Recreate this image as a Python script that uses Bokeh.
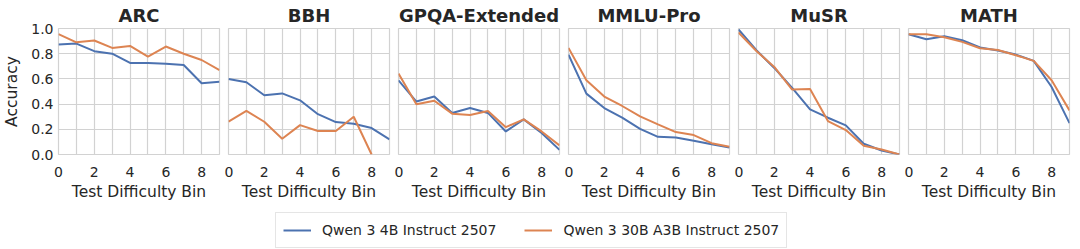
import math
from bokeh.plotting import figure
from bokeh.layouts import row, column
from bokeh.models import Range1d, FixedTicker, PrintfTickFormatter, Legend, LegendItem
from bokeh.embed import file_html
from bokeh.resources import INLINE

nan = float("nan")

bins = list(range(10))
titles = ["ARC", "BBH", "GPQA-Extended", "MMLU-Pro", "MuSR", "MATH"]
series_names = ["Qwen 3 4B Instruct 2507", "Qwen 3 30B A3B Instruct 2507"]

arc_4b = [0.873, 0.88, 0.82, 0.80, 0.727, 0.727, 0.72, 0.71, 0.565, 0.578]
arc_30b = [0.955, 0.89, 0.905, 0.846, 0.862, 0.777, 0.857, 0.80, 0.75, 0.67]
bbh_4b = [0.60, 0.573, 0.47, 0.485, 0.43, 0.32, 0.257, 0.244, 0.21, 0.12]
bbh_30b = [0.26, 0.347, 0.26, 0.125, 0.233, 0.186, 0.186, 0.30, 0.0, nan]
gpqa_4b = [0.589, 0.42, 0.46, 0.33, 0.369, 0.33, 0.183, 0.279, 0.17, 0.037]
gpqa_30b = [0.642, 0.398, 0.427, 0.324, 0.313, 0.345, 0.217, 0.279, 0.183, 0.072]
mmlu_4b = [0.793, 0.483, 0.369, 0.292, 0.204, 0.14, 0.135, 0.109, 0.082, 0.055]
mmlu_30b = [0.846, 0.589, 0.46, 0.385, 0.302, 0.239, 0.178, 0.154, 0.09, 0.062]
musr_4b = [0.992, 0.828, 0.687, 0.528, 0.358, 0.292, 0.231, 0.085, 0.032, 0.0]
musr_30b = [0.968, 0.822, 0.695, 0.515, 0.52, 0.265, 0.194, 0.069, 0.04, 0.0]
math_4b = [0.955, 0.915, 0.939, 0.907, 0.849, 0.825, 0.793, 0.743, 0.536, 0.249]
math_30b = [0.955, 0.955, 0.931, 0.894, 0.843, 0.830, 0.788, 0.743, 0.589, 0.35]

data_4b = [arc_4b, bbh_4b, gpqa_4b, mmlu_4b, musr_4b, math_4b]
data_30b = [arc_30b, bbh_30b, gpqa_30b, mmlu_30b, musr_30b, math_30b]

x_ticks = [0, 2, 4, 6, 8]
y_ticks = [0.0, 0.2, 0.4, 0.6, 0.8, 1.0]

BLUE = "#4c72b0"
ORANGE = "#dd8452"
GRID = "#d2d2d2"
TEXT = "#262626"
FONT = "DejaVu Sans"

figs = []
for i, t in enumerate(titles):
    first = i == 0
    p = figure(
        frame_width=161, frame_height=126,
        min_border_left=54 if first else 4, min_border_right=5,
        min_border_top=0, min_border_bottom=53,
        x_range=Range1d(0, 9), y_range=Range1d(0, 1),
        output_backend="svg", toolbar_location=None,
        title=t,
    )
    p.title.align = "center"
    p.title.text_font = FONT
    p.title.text_font_size = "18px"
    p.title.text_font_style = "bold"
    p.title.text_color = TEXT
    p.title.standoff = 5
    p.title.offset = 0

    p.outline_line_color = GRID
    p.outline_line_width = 1.2
    p.background_fill_color = "white"
    p.border_fill_color = "white"

    p.xaxis.ticker = FixedTicker(ticks=x_ticks)
    p.xgrid.ticker = FixedTicker(ticks=bins)
    p.yaxis.ticker = FixedTicker(ticks=y_ticks)
    p.ygrid.ticker = FixedTicker(ticks=y_ticks)
    p.yaxis.formatter = PrintfTickFormatter(format="%.1f")
    for g in (p.xgrid, p.ygrid):
        g.grid_line_color = GRID
        g.grid_line_width = 1.2

    for ax in (p.xaxis, p.yaxis):
        ax.axis_line_color = None
        ax.major_tick_line_color = None
        ax.minor_tick_line_color = None
        ax.major_tick_out = 0
        ax.major_tick_in = 0
        ax.major_label_text_font = FONT
        ax.major_label_text_font_size = "14px"
        ax.major_label_text_color = TEXT
        ax.axis_label_text_font = FONT
        ax.axis_label_text_font_size = "15.5px"
        ax.axis_label_text_font_style = "normal"
        ax.axis_label_text_color = TEXT

    p.xaxis.axis_label = "Test Difficulty Bin"
    p.xaxis.major_label_standoff = 12
    p.xaxis.axis_label_standoff = 3
    if first:
        p.yaxis.axis_label = "Accuracy"
        p.yaxis.major_label_standoff = 5
        p.yaxis.axis_label_standoff = 7
    else:
        p.yaxis.visible = False

    p.line(bins, data_4b[i], line_color=BLUE, line_width=2)
    p.line(bins, data_30b[i], line_color=ORANGE, line_width=2)
    figs.append(p)

# legend strip
lg = figure(width=1070, height=42, min_border=0,
            x_range=Range1d(-100, -90), y_range=Range1d(0, 1),
            output_backend="svg", toolbar_location=None)
lg.axis.visible = False
lg.grid.visible = False
lg.outline_line_color = None
r1 = lg.line(bins, arc_4b, line_color=BLUE, line_width=2)
r2 = lg.line(bins, arc_30b, line_color=ORANGE, line_width=2)
legend = Legend(
    items=[LegendItem(label=series_names[0], renderers=[r1]),
           LegendItem(label=series_names[1], renderers=[r2])],
    orientation="horizontal", location=(275, 1),
    label_text_font=FONT, label_text_font_size="14px", label_text_color=TEXT,
    glyph_width=28, glyph_height=20, label_height=20, label_standoff=11,
    spacing=28, padding=7, margin=0,
    border_line_color="#cccccc", border_line_width=1,
    background_fill_color="white", background_fill_alpha=1.0,
)
lg.add_layout(legend, "center")

layout = column(row(*figs), lg)
open("out.html", "w").write(file_html(layout, INLINE))
